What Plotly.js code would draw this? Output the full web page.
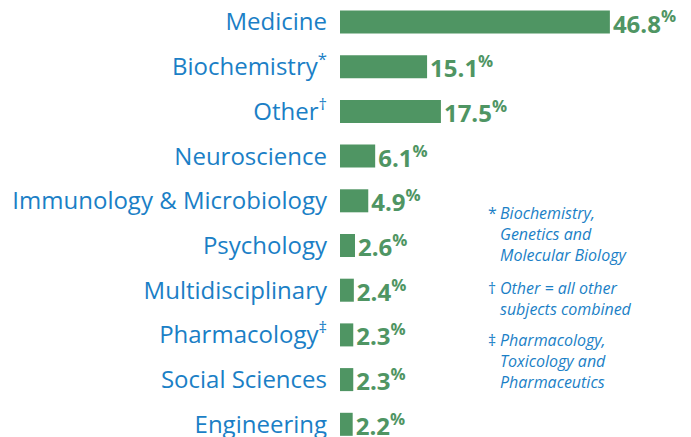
<!DOCTYPE html>
<html><head><meta charset="utf-8">
<script src="https://cdn.plot.ly/plotly-3.0.1.min.js"></script>
<style>html,body{margin:0;padding:0;background:#fff}</style>
</head><body><div id="chart" style="width:691px;height:437px"></div>
<script>
const categories = ["Medicine","Biochemistry","Other","Neuroscience","Immunology & Microbiology","Psychology","Multidisciplinary","Pharmacology","Social Sciences","Engineering"];
const footMarks = ["","*","†","","","","","‡","",""];
const values = [46.8,15.1,17.5,6.1,4.9,2.6,2.4,2.3,2.3,2.2];
const notes = [
  {mark:"*", lines:["Biochemistry,","Genetics and","Molecular Biology"]},
  {mark:"†", lines:["Other = all other","subjects combined"]},
  {mark:"‡", lines:["Pharmacology,","Toxicology and","Pharmaceutics"]}
];

const GREEN = "#4f9563", BLUE = "#1b7fc6";
const W = 691, H = 437, L = 340, R = 5;
const ticktext = categories.map((c,i)=> footMarks[i] ? c + "<sup>" + footMarks[i] + "</sup>" : c);
const texts = values.map(v => "<b>" + v.toFixed(1) + "<sup>%</sup></b>");

const noteTop = [213, 288, 340];
const lineH = 21;
const annotations = [];
const px2x = p => (p - L) / (W - L - R);
const py2y = p => 1 - p / H;
notes.forEach((n, k) => {
  annotations.push({xref:"paper", yref:"paper", x:px2x(486), y:py2y(noteTop[k]), xanchor:"left", yanchor:"middle",
    text:n.mark, showarrow:false, font:{family:"Open Sans", size:16, color:BLUE}});
  n.lines.forEach((ln, j) => {
    annotations.push({xref:"paper", yref:"paper", x:px2x(498), y:py2y(noteTop[k] + j*lineH), xanchor:"left", yanchor:"middle",
      text:"<i>"+ln+"</i>", showarrow:false, font:{family:"Open Sans", size:16, color:BLUE}});
  });
});

const trace = {
  type:"bar", orientation:"h", y:categories, x:values,
  marker:{color:GREEN}, text:texts, textposition:"outside", cliponaxis:false,
  constraintext:"none", textfont:{family:"Open Sans", size:24, color:GREEN},
  hoverinfo:"none"
};
const layout = {
  width:W, height:H, margin:{l:L, r:R, t:0, b:0},
  paper_bgcolor:"#fff", plot_bgcolor:"#fff", showlegend:false, bargap:0.485,
  xaxis:{range:[0,60], visible:false, fixedrange:true},
  yaxis:{type:"category", range:[9.284,-0.492], tickvals:categories, ticktext:ticktext,
    tickfont:{family:"Open Sans", size:24, color:BLUE}, ticks:"", showgrid:false, zeroline:false,
    showline:false, ticklabelstandoff:12},
  annotations:annotations
};
Plotly.newPlot("chart", [trace], layout, {staticPlot:true, displayModeBar:false});
</script></body></html>
